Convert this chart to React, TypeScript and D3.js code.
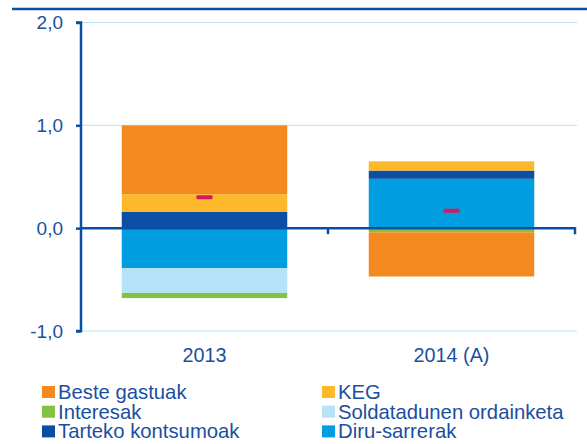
import React, { useRef, useEffect } from "react";
import * as d3 from "d3";

const categories = ["2013", "2014 (A)"];
const seriesNames = [
  "Diru-sarrerak",
  "Tarteko kontsumoak",
  "KEG",
  "Soldatadunen ordainketa",
  "Interesak",
  "Beste gastuak",
];
const diruSarrerak = [-0.39, 0.48];
const tartekoKontsumoak = [0.16, 0.08];
const keg = [0.17, 0.09];
const soldatadunen = [-0.24, 0];
const interesak = [-0.05, -0.04];
const besteGastuak = [0.67, -0.43];
const totals = [0.3, 0.17];
const yTicks = [-1, 0, 1, 2];

const colors: Record<string, string> = {
  "Diru-sarrerak": "#009ee0",
  "Tarteko kontsumoak": "#0a4fa3",
  KEG: "#fdb92a",
  "Soldatadunen ordainketa": "#b6e3f7",
  Interesak: "#84c341",
  "Beste gastuak": "#f4891f",
};

const legendOrder = [
  ["Beste gastuak", "KEG"],
  ["Interesak", "Soldatadunen ordainketa"],
  ["Tarteko kontsumoak", "Diru-sarrerak"],
];

const BLUE = "#0a4fa3";
const TEXT = "#1a4fa0";
const FONT = "'Liberation Sans', Arial, sans-serif";

const App = () => {
  const svgRef = useRef<SVGSVGElement>(null);

  useEffect(() => {
    const width = 587;
    const height = 444;
    const margin = { top: 22.5, right: 12, bottom: 113, left: 81 };

    const svg = d3.select(svgRef.current);
    svg.selectAll("*").remove();

    const values = [diruSarrerak, tartekoKontsumoak, keg, soldatadunen, interesak, besteGastuak];
    const rows = categories.map((c, i) => {
      const r: any = { cat: c };
      seriesNames.forEach((s, j) => (r[s] = values[j][i]));
      return r;
    });

    const stack = d3.stack<any>().keys(seriesNames).offset(d3.stackOffsetDiverging);
    const layers = stack(rows);

    const x = d3
      .scaleBand()
      .domain(categories)
      .range([margin.left, width - margin.right])
      .paddingInner(0.33)
      .paddingOuter(0.165);
    const y = d3
      .scaleLinear()
      .domain([-1, 2])
      .range([height - margin.bottom, margin.top]);

    // top rule
    svg
      .append("line")
      .attr("x1", 12)
      .attr("x2", width)
      .attr("y1", 9)
      .attr("y2", 9)
      .attr("stroke", BLUE)
      .attr("stroke-width", 2.5);

    // gridlines
    svg
      .append("g")
      .selectAll("line")
      .data(yTicks.filter((t) => t !== 0))
      .enter()
      .append("line")
      .attr("x1", margin.left)
      .attr("x2", width - margin.right + 2)
      .attr("y1", (d) => y(d))
      .attr("y2", (d) => y(d))
      .attr("stroke", "#b9e2f6")
      .attr("stroke-width", 1);

    // bars
    svg
      .append("g")
      .selectAll("g")
      .data(layers)
      .enter()
      .append("g")
      .attr("fill", (d) => colors[d.key])
      .selectAll("rect")
      .data((d) => d)
      .enter()
      .append("rect")
      .attr("x", (d: any) => x(d.data.cat)!)
      .attr("width", x.bandwidth())
      .attr("y", (d) => y(Math.max(d[0], d[1])))
      .attr("height", (d) => Math.abs(y(d[0]) - y(d[1])));

    // totals marker
    svg
      .append("g")
      .selectAll("rect")
      .data(totals)
      .enter()
      .append("rect")
      .attr("x", (_, i) => x(categories[i])! + x.bandwidth() / 2 - 8)
      .attr("y", (d) => y(d) - 2)
      .attr("width", 16)
      .attr("height", 4)
      .attr("rx", 1)
      .attr("fill", "#d3195f");

    // y axis
    const yAxis = d3
      .axisLeft(y)
      .tickValues(yTicks)
      .tickSize(5)
      .tickFormat((d) => d3.format(".1f")(d as number).replace(".", ",").replace("\u2212", "-"));
    const ya = svg
      .append("g")
      .attr("transform", `translate(${margin.left},0)`)
      .call(yAxis);
    ya.select(".domain").attr("stroke", BLUE).attr("stroke-width", 2.5).attr("d", `M-5,${y(2)}H0V${y(-1)}H-5`);
    ya.selectAll(".tick line").attr("stroke", BLUE).attr("stroke-width", 2.5);
    ya.selectAll(".tick text")
      .attr("x", -18)
      .attr("fill", TEXT)
      .style("font-family", FONT)
      .style("font-size", "19px");

    // zero axis with category ticks
    const xa = svg
      .append("g")
      .attr("transform", `translate(0,${y(0)})`)
      .call(
        d3
          .axisBottom(x)
          .tickSize(0)
          .tickFormat(() => "")
      );
    xa.select(".domain").attr("stroke", BLUE).attr("stroke-width", 2.5).attr("d", `M${margin.left},0H${width - margin.right}V6`);
    const step = x.step();
    xa.selectAll(".tick line").remove();
    xa.append("line")
      .attr("x1", margin.left + step)
      .attr("x2", margin.left + step)
      .attr("y1", 0)
      .attr("y2", 6)
      .attr("stroke", BLUE)
      .attr("stroke-width", 2.5);

    // category labels
    svg
      .append("g")
      .selectAll("text")
      .data(categories)
      .enter()
      .append("text")
      .attr("x", (d) => x(d)! + x.bandwidth() / 2)
      .attr("y", 362)
      .attr("text-anchor", "middle")
      .attr("fill", TEXT)
      .style("font-family", FONT)
      .style("font-size", "19.8px")
      .text((d) => d);

    // legend
    const legend = svg.append("g");
    legendOrder.forEach((row, ri) => {
      row.forEach((name, ci) => {
        const lx = ci === 0 ? 42 : 322;
        const ly = 392 + ri * 19.7;
        legend
          .append("rect")
          .attr("x", lx)
          .attr("y", ly - 6)
          .attr("width", 13)
          .attr("height", 12)
          .attr("fill", colors[name]);
        legend
          .append("text")
          .attr("x", lx + 16)
          .attr("y", ly + 7)
          .attr("fill", TEXT)
          .style("font-family", FONT)
          .style("font-size", "20.3px")
          .text(name);
      });
    });
  }, []);

  return (
    <svg
      ref={svgRef}
      width={587}
      height={444}
      style={{ position: "absolute", left: 0, top: 0, background: "#fff" }}
    ></svg>
  );
};

export default App;
